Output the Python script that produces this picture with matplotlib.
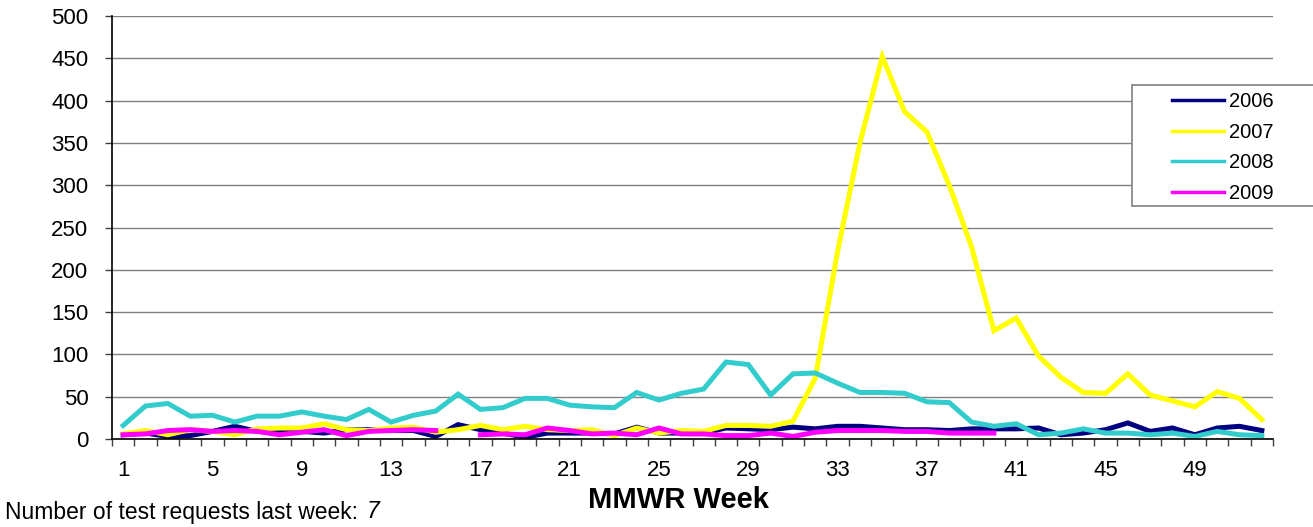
import matplotlib
matplotlib.use("Agg")
import matplotlib.pyplot as plt
import matplotlib.patches as patches
import numpy as np

plt.rcParams["font.family"] = ["Liberation Sans", "DejaVu Sans"]

nan = np.nan

weeks = np.arange(1, 53)
tick_weeks = np.arange(1, 53, 4)

s2006 = [5, 7, 3, 4, 9, 15, 9, 8, 9, 7,
         11, 11, 10, 10, 3, 17, 11, 7, 2, 7,
         7, 7, 6, 14, 7, 7, 7, 13, 12, 11,
         14, 12, 15, 15, 13, 11, 11, 10, 12, 12,
         12, 13, 5, 7, 11, 19, 9, 13, 5, 13,
         15, 10]
s2007 = [6, 10, 5, 11, 9, 5, 12, 13, 13, 18,
         11, 10, 13, 14, 8, 11, 16, 11, 15, 11,
         10, 11, 4, 13, 7, 10, 9, 16, 16, 15,
         21, 72, 222, 350, 452, 387, 363, 300, 227, 128,
         143, 98, 73, 55, 54, 77, 52, 45, 38, 56,
         48, 23]
s2008 = [16, 39, 42, 27, 28, 20, 27, 27, 32, 27,
         23, 35, 20, 28, 33, 53, 35, 37, 48, 48,
         40, 38, 37, 55, 46, 54, 59, 91, 88, 52,
         77, 78, 66, 55, 55, 54, 44, 43, 20, 15,
         18, 5, 7, 12, 7, 7, 5, 7, 3, 9,
         5, 4]
s2009 = [5, 6, 10, 11, 9, 10, 9, 5, 8, 11,
         4, 9, 10, 11, 10, nan, 5, 6, 5, 13,
         10, 6, 7, 5, 13, 6, 6, 4, 4, 7,
         3, 8, 10, 10, 10, 9, 9, 7, 7, 7,
         nan, nan, nan, nan, nan, nan, nan, nan, nan, nan,
         nan, nan]

series = [("2006", s2006, "#000080"),
          ("2007", s2007, "#FFFF00"),
          ("2008", s2008, "#33CCCC"),
          ("2009", s2009, "#FF00FF")]

W, H = 1313, 527
fig = plt.figure(figsize=(W / 100, H / 100), dpi=100)
ax = fig.add_axes([112 / W, 1 - 439 / H, (1273 - 112) / W, (439 - 16) / H])

lines = []
for name, vals, col in series:
    ln, = ax.plot(weeks, vals, color=col, lw=3.6, label=name, solid_joinstyle="miter")
    lines.append(ln)

ax.set_xlim(0.5, 52.5)
ax.set_ylim(0, 500)
ax.set_yticks(np.arange(0, 501, 50))
ax.yaxis.grid(True, color="#808080", lw=1.0)
ax.set_axisbelow(True)
for s in ["top", "right"]:
    ax.spines[s].set_visible(False)
ax.spines["left"].set_linewidth(1.2)
ax.spines["bottom"].set_linewidth(1.2)

# ticks between categories, labels on every 4th week
ax.set_xticks(np.arange(0.5, 53, 1.0))
ax.set_xticklabels([])
ax.set_xticks(tick_weeks, minor=True)
ax.set_xticklabels([str(w) for w in tick_weeks], minor=True, fontsize=16)
ax.tick_params(axis="x", which="major", direction="out", length=5, width=1, color="#404040")
ax.tick_params(axis="x", which="minor", length=0, pad=15)
ax.tick_params(axis="y", direction="out", length=5, width=1, color="#404040", labelsize=16, pad=12)

ax.set_xlabel("MMWR Week", fontsize=21, fontweight="bold")
ax.xaxis.set_label_coords((678 - 112) / 1161, -(500 - 439) / 423)
ax.xaxis.label.set_verticalalignment("center")

# legend
frame = patches.Rectangle((1132 / W, 1 - 206 / H), 200 / W, 121 / H, transform=fig.transFigure,
                          facecolor="white", edgecolor="#808080", lw=1.2)
fig.patches.append(frame)
fig.legend(lines, [s[0] for s in series], loc="upper left",
           bbox_to_anchor=(1172 / W, 1 - 92 / H), frameon=False, borderpad=0, borderaxespad=0,
           fontsize=14.5, handlelength=2.6, handletextpad=0.25, labelspacing=0.58)
for lh in fig.legends[0].get_lines():
    lh.set_linewidth(2.5)

t = fig.text(5 / W, 1 - 512 / H, "Number of test requests last week:", fontsize=16.5, va="center")
ax.annotate("7", xy=(1, 0.5), xycoords=t, xytext=(6, 0), textcoords="offset points",
            fontsize=16.5, fontstyle="italic", va="center", annotation_clip=False)

fig.savefig("out.png", dpi=100)
